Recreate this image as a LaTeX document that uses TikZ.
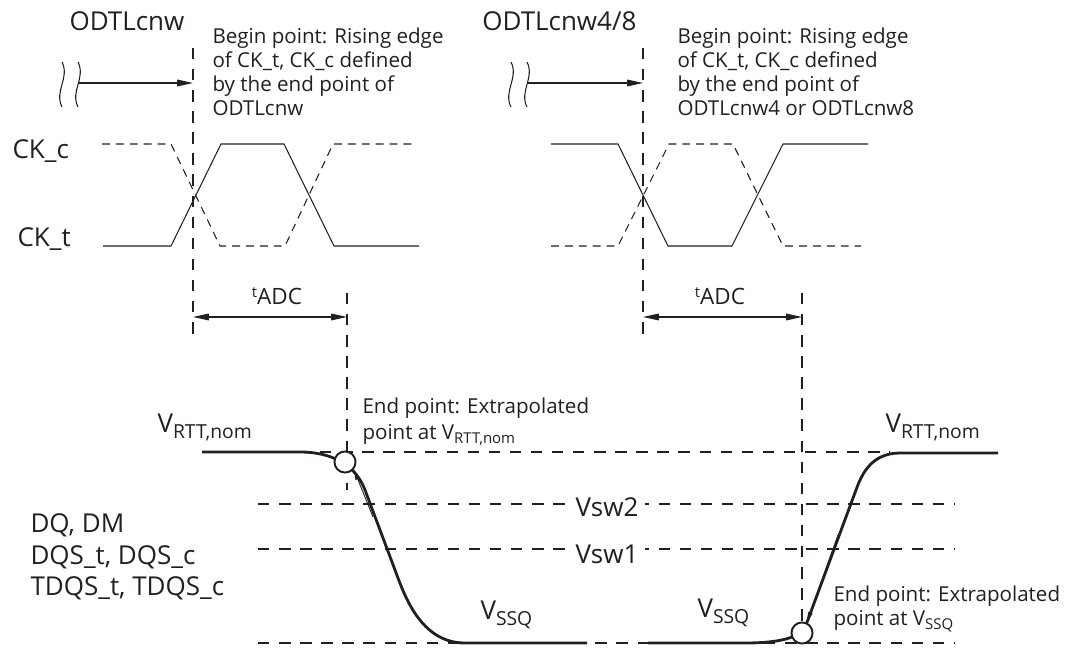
\documentclass[tikz,border=0pt]{standalone}
\usepackage{fontspec}
\setmainfont{Open Sans}
\setsansfont{Open Sans}
\usetikzlibrary{arrows.meta, positioning, calc}
\definecolor{cink}{HTML}{231F20}
\newcommand{\sublabel}[1]{\raisebox{-3.4pt}{\fontsize{11}{13}\selectfont #1}}
\newcommand{\subnote}[1]{\raisebox{-2.6pt}{\fontsize{8.5}{10}\selectfont #1}}
\newcommand{\suptime}[1]{\raisebox{4.2pt}{\fontsize{8.5}{10}\selectfont #1}}
\tikzset{
  every picture/.style={font=\sffamily, line width=0.6pt, color=cink},
  sig/.style={draw=cink, line width=0.6pt},
  sigc/.style={sig, dash pattern=on 4.5pt off 3.4pt},
  guide/.style={draw=cink, line width=0.6pt, dash pattern=on 6.5pt off 5.5pt},
  wave/.style={draw=cink, line width=1.6pt},
  arrow/.style={-{Triangle[length=9pt, width=3.8pt]}, draw=cink, line width=0.6pt},
  dimarrow/.style={{Triangle[length=9pt, width=3.8pt]}-{Triangle[length=9pt, width=3.8pt]}, draw=cink, line width=0.6pt},
  extra/.style={-{Triangle[length=6pt, width=2.6pt]}, draw=cink, line width=0.5pt},
  signame/.style={font=\fontsize{14.8}{18}\selectfont, inner sep=0pt},
  note/.style={font=\fontsize{11.7}{13.8}\selectfont, align=left, inner sep=0pt, anchor=north west},
  endpt/.style={circle, draw=cink, fill=white, line width=1.1pt, minimum size=12pt, inner sep=0pt},
}
\begin{document}
\begin{tikzpicture}[x=0.02cm, y=-0.02cm]
  \useasboundingbox (0,0) rectangle (1079,651);
  % guide lines
  \coordinate (b1top) at (193,48);  \coordinate (b1bot) at (193,343);
  \coordinate (e1top) at (347,293); \coordinate (e1bot) at (347,490);
  \coordinate (b2top) at (643,48);  \coordinate (b2bot) at (643,343);
  \coordinate (e2top) at (802,293); \coordinate (e2bot) at (802,651);
  \coordinate (rtta) at (320,452);  \coordinate (rttb) at (890,452);
  \coordinate (sw2a) at (258,504);  \coordinate (sw2b) at (955,504);
  \coordinate (sw1a) at (258,549);  \coordinate (sw1b) at (955,549);
  \coordinate (ssqa) at (258,643);  \coordinate (ssqb) at (955,643);
  \foreach \a/\b in {b1top/b1bot, e1top/e1bot, b2top/b2bot, e2top/e2bot, rtta/rttb, sw2a/sw2b, sw1a/sw1b, ssqa/ssqb}
    \draw[guide] (\a) -- (\b);
  % ODTLcnw (left)
  \node[signame, anchor=base west] (odtl) at (69,31) {ODTLcnw};
  \node[note] (beg1) at (212,27) {Begin point: Rising edge\\of CK\_t, CK\_c defined\\by the end point of\\ODTLcnw};
  \foreach \x in {62,78} \draw[sig] (\x,62) .. controls (\x+8,78) and (\x-8,91) .. (\x,107);
  \coordinate (go1) at (79,83); \coordinate (hit1) at (193,83);
  \draw[arrow] (go1) -- (hit1);
  % ODTLcnw4/8 (right)
  \node[signame, anchor=base east] (odtl48) at (637,31) {ODTLcnw4/8};
  \node[note] (beg2) at (677,27) {Begin point: Rising edge\\of CK\_t, CK\_c defined\\by the end point of\\ODTLcnw4 or ODTLcnw8};
  \foreach \x in {511,527} \draw[sig] (\x,62) .. controls (\x+8,78) and (\x-8,91) .. (\x,107);
  \coordinate (go2) at (528,83); \coordinate (hit2) at (643,83);
  \draw[arrow] (go2) -- (hit2);
  % clocks
  \node[signame, anchor=base west] (ckc) at (12,159) {CK\_c};
  \node[signame, anchor=base west] (ckt) at (17,247) {CK\_t};
  \draw[sig] (103,246) -- (171,246) -- (221,144) -- (284,144) -- (334,246) -- (419,246);
  \draw[sigc] (102,144) -- (171,144) -- (220,246) -- (285,246) -- (333,144) -- (412,144);
  \draw[sig] (551,144) -- (618,144) -- (668,246) -- (732,246) -- (783,144) -- (868,144);
  \draw[sigc] (551,246) -- (618,246) -- (669,144) -- (733,144) -- (783,246) -- (861,246);
  % tADC
  \coordinate (t1a) at (193,317); \coordinate (t1b) at (347,317);
  \coordinate (t2a) at (643,317); \coordinate (t2b) at (802,317);
  \draw[dimarrow] (t1a) -- (t1b);
  \draw[dimarrow] (t2a) -- (t2b);
  \node[note, font=\fontsize{12.8}{14}\selectfont, anchor=base] (tadc1) at (277,305) {\suptime{t}ADC};
  \node[note, font=\fontsize{12.8}{14}\selectfont, anchor=base] (tadc2) at (720,305) {\suptime{t}ADC};
  % levels
  \node[signame, anchor=base west] (rtt1) at (157,433) {V\sublabel{RTT,nom}};
  \node[signame, anchor=base west] (rtt2) at (885,433) {V\sublabel{RTT,nom}};
  \node[signame, align=left, anchor=north west] (dq) at (30,513) {DQ, DM\\DQS\_t, DQS\_c\\TDQS\_t, TDQS\_c};
  \node[signame, fill=white, inner sep=4pt] (vsw2) at (607,507) {Vsw2};
  \node[signame, fill=white, inner sep=4pt] (vsw1) at (607,554) {Vsw1};
  \node[signame, anchor=base west] (ssq1) at (480,620) {V\sublabel{SSQ}};
  \node[signame, anchor=base west] (ssq2) at (697,618) {V\sublabel{SSQ}};
  % DQ waveform
  \draw[wave] (202,452) -- (300,452) .. controls (330,452) and (355,463.5) .. (365,490)
    -- (395,570) .. controls (404,594) and (420,643) .. (465,643) -- (587,643);
  \draw[wave] (648,643) -- (745,643) .. controls (782,643) and (801.5,637) .. (806,625)
    -- (856,490) .. controls (861,476.5) and (870,453) .. (900,453) -- (998,453);
  % end points
  \coordinate (x1) at (373,517);
  \coordinate (x2) at (838,535);
  \node[endpt] (c1) at (345,462) {};
  \node[endpt] (c2) at (802,633) {};
  \draw[extra] (x1) -- (c1.-40);
  \draw[extra] (x2) -- (c2.65);
  \node[note] (end1) at (362,397) {End point: Extrapolated\\[1pt]point at V\subnote{RTT,nom}};
  \node[note] (end2) at (833,585) {End point: Extrapolated\\point at V\subnote{SSQ}};
\end{tikzpicture}
\end{document}
